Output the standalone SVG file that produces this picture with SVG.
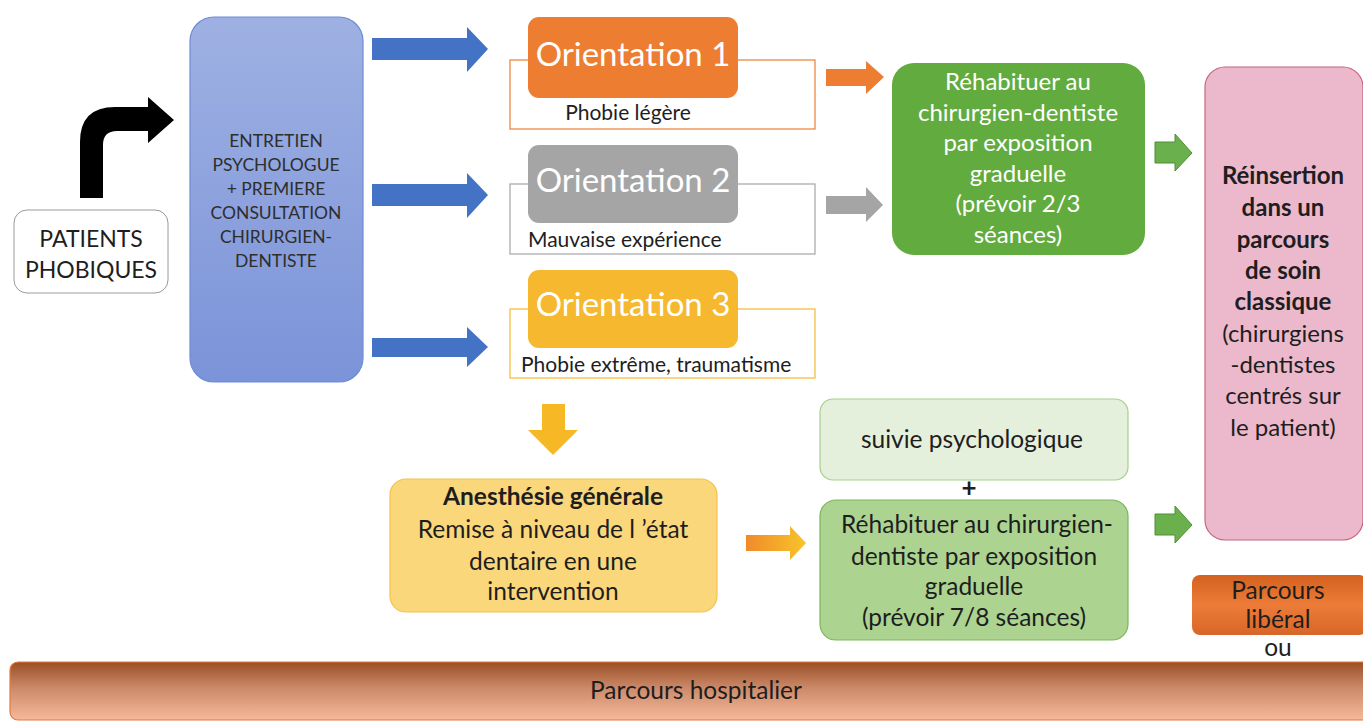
<svg xmlns="http://www.w3.org/2000/svg" width="1363" height="722" viewBox="0 0 1363 722">
<defs>
<style>
text{font-family:Lato,"Open Sans","Liberation Sans",sans-serif;fill:#1e1e1e;text-anchor:middle}
.w{fill:#ffffff}
.b{font-weight:bold}
.ori{font-size:33px;fill:#ffffff}
.sub{font-size:21px}
.g25{font-size:24px}
.m22{font-size:24.5px}
.bl{font-size:17.5px;fill:#2e2e2e}
</style>
<linearGradient id="gBlue" x1="0" y1="0" x2="0" y2="1"><stop offset="0" stop-color="#9fb1e3"/><stop offset="1" stop-color="#7b93d8"/></linearGradient>
<linearGradient id="gBar" x1="0" y1="0" x2="0" y2="1"><stop offset="0" stop-color="#9b4e25"/><stop offset="0.45" stop-color="#cc8a6a"/><stop offset="1" stop-color="#f6b99a"/></linearGradient>
<linearGradient id="gLib" x1="0" y1="0" x2="0" y2="1"><stop offset="0" stop-color="#d4611f"/><stop offset="0.5" stop-color="#ec7c38"/><stop offset="1" stop-color="#d8662a"/></linearGradient>
<linearGradient id="gYO" x1="0" y1="0" x2="1" y2="0"><stop offset="0" stop-color="#f08a2c"/><stop offset="1" stop-color="#f8c42a"/></linearGradient>
</defs>

<g id="connectors">
  <path d="M80,198 L80,142 Q80,107 115,107 L148,107 L148,97 L174,120 L148,143 L148,131 L117,131 Q103,131 103,145 L103,198 Z" fill="#000000"/>
  <path d="M372,38 L467,38 L467,27 L488,49 L467,72 L467,60 L372,60 Z" fill="#4472c4"/>
  <path d="M372,184 L467,184 L467,173 L488,195 L467,218 L467,206 L372,206 Z" fill="#4472c4"/>
  <path d="M372,338 L467,338 L467,327 L488,347 L467,367 L467,357 L372,357 Z" fill="#4472c4"/>
  <path d="M826,69 L866,69 L866,61 L884,77 L866,94 L866,86 L826,86 Z" fill="#ed7d31"/>
  <path d="M826,196 L866,196 L866,187 L883,205 L866,222 L866,214 L826,214 Z" fill="#a5a5a5"/>
  <path d="M1155,142 L1175,142 L1175,134 L1192,153 L1175,171 L1175,163 L1155,163 Z" fill="#6ab04c" stroke="#4f8f35" stroke-width="1"/>
  <path d="M1155,514 L1175,514 L1175,506 L1192,525 L1175,543 L1175,535 L1155,535 Z" fill="#6ab04c" stroke="#4f8f35" stroke-width="1"/>
  <path d="M542,404 L565,404 L565,430 L578,430 L553,455 L528,430 L542,430 Z" fill="#f7b826"/>
  <path d="M746,535 L790,535 L790,526 L806,543 L790,560 L790,551 L746,551 Z" fill="url(#gYO)"/>
</g>

<g id="patients">
  <rect x="14" y="210" width="154" height="83" rx="13" fill="#ffffff" stroke="#9a9a9a" stroke-width="1"/>
  <text x="91" y="247" style="font-size:23px">PATIENTS</text>
  <text x="91" y="278" style="font-size:23px">PHOBIQUES</text>
</g>

<g id="entretien">
  <rect x="190" y="17" width="173" height="365" rx="24" fill="url(#gBlue)" stroke="#6f8bd3" stroke-width="1.2"/>
  <text class="bl" x="276" y="147">ENTRETIEN</text>
  <text class="bl" x="276" y="171">PSYCHOLOGUE</text>
  <text class="bl" x="276" y="195">+ PREMIERE</text>
  <text class="bl" x="276" y="219">CONSULTATION</text>
  <text class="bl" x="276" y="243">CHIRURGIEN-</text>
  <text class="bl" x="276" y="267">DENTISTE</text>
</g>

<g id="orientation1">
  <rect x="510" y="60" width="305" height="69" fill="none" stroke="#ed7d31" stroke-width="1.2"/>
  <rect x="528" y="17" width="210" height="81" rx="11" fill="#ed7d31"/>
  <text class="ori" x="633" y="66">Orientation 1</text>
  <text class="sub" x="628" y="120">Phobie légère</text>
</g>

<g id="orientation2">
  <rect x="510" y="184" width="305" height="70" fill="none" stroke="#a5a5a5" stroke-width="1.2"/>
  <rect x="528" y="145" width="210" height="78" rx="11" fill="#a5a5a5"/>
  <text class="ori" x="633" y="192">Orientation 2</text>
  <text class="sub" x="528" y="247" style="text-anchor:start">Mauvaise expérience</text>
</g>

<g id="orientation3">
  <rect x="510" y="309" width="305" height="69" fill="none" stroke="#f5b82e" stroke-width="1.2"/>
  <rect x="528" y="270" width="210" height="78" rx="11" fill="#f5b82e"/>
  <text class="ori" x="633" y="316">Orientation 3</text>
  <text class="sub" x="521" y="372" style="text-anchor:start">Phobie extrême, traumatisme</text>
</g>

<g id="rehab1">
  <rect x="892" y="63" width="253" height="192" rx="22" fill="#62ab3e"/>
  <text class="g25 w" x="1018" y="90">Réhabituer au</text>
  <text class="g25 w" x="1018" y="121">chirurgien-dentiste</text>
  <text class="g25 w" x="1018" y="151">par exposition</text>
  <text class="g25 w" x="1018" y="182">graduelle</text>
  <text class="g25 w" x="1018" y="212">(prévoir 2/3</text>
  <text class="g25 w" x="1018" y="243">séances)</text>
</g>

<g id="reinsertion">
  <rect x="1205" y="67" width="158" height="473" rx="20" fill="#ecb8cb" stroke="#c8647f" stroke-width="1.2"/>
  <text class="g25 b" x="1283" y="184">Réinsertion</text>
  <text class="g25 b" x="1283" y="216">dans un</text>
  <text class="g25 b" x="1283" y="248">parcours</text>
  <text class="g25 b" x="1283" y="279">de soin</text>
  <text class="g25 b" x="1283" y="310">classique</text>
  <text class="g25" x="1283" y="342">(chirurgiens</text>
  <text class="g25" x="1283" y="373">-dentistes</text>
  <text class="g25" x="1283" y="404">centrés sur</text>
  <text class="g25" x="1283" y="436">le patient)</text>
</g>

<g id="anesthesie">
  <rect x="390" y="479" width="327" height="133" rx="16" fill="#fbd77c" stroke="#f3c24a" stroke-width="1.2"/>
  <text class="m22 b" x="553" y="505">Anesthésie générale</text>
  <text class="m22" x="553" y="538">Remise à niveau de l ’état</text>
  <text class="m22" x="553" y="570">dentaire en une</text>
  <text class="m22" x="553" y="600">intervention</text>
</g>

<g id="suivie">
  <rect x="820" y="399" width="308" height="81" rx="13" fill="#e4f0dc" stroke="#a6cf8c" stroke-width="1.2"/>
  <text class="m22" x="972" y="448">suivie psychologique</text>
</g>

<g id="plus">
  <text x="969" y="497" style="font-size:26px;font-weight:bold">+</text>
</g>

<g id="rehab2">
  <rect x="820" y="500" width="308" height="140" rx="16" fill="#acd490" stroke="#7ab55a" stroke-width="1.2"/>
  <text class="m22" x="977" y="533">Réhabituer au chirurgien-</text>
  <text class="m22" x="974" y="565">dentiste par exposition</text>
  <text class="m22" x="974" y="595">graduelle</text>
  <text class="m22" x="974" y="626">(prévoir 7/8 séances)</text>
</g>

<g id="liberal">
  <rect x="1192" y="575" width="175" height="60" rx="8" fill="url(#gLib)"/>
  <text class="m22" x="1278" y="599">Parcours</text>
  <text class="m22" x="1278" y="628">libéral</text>
  <text class="m22" x="1278" y="656">ou</text>
</g>

<g id="hospitalier">
  <rect x="10" y="662" width="1360" height="58" rx="8" fill="url(#gBar)" stroke="#e07b3f" stroke-width="1.2"/>
  <text class="m22" x="696" y="699">Parcours hospitalier</text>
</g>
</svg>
